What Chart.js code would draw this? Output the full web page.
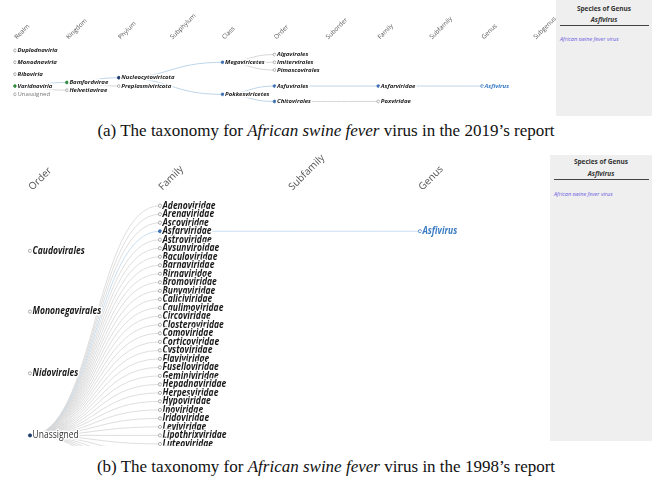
<!DOCTYPE html>
<html>
<head>
<meta charset="utf-8">
<script src="https://cdn.jsdelivr.net/npm/chart.js@4.4.1/dist/chart.umd.min.js"></script>
<style>
  body { margin: 0; width: 652px; height: 485px; position: relative; overflow: hidden; background: #fff; font-family: "Open Sans", sans-serif; }
  canvas { position: absolute; left: 0; }
  #tree2019 { top: 0; }
  #tree1998 { top: 148px; }
  .side { position: absolute; background: #efefef; }
  .side div { position: absolute; left: 0; right: 0; white-space: nowrap; }
  .sh { text-align: center; font-weight: 700; font-size: 6.5px; color: #333; }
  .sg { text-align: center; font-weight: 700; font-style: italic; font-size: 6.5px; color: #333; }
  .rule { height: 0; border-top: 1.5px solid #444; left: 4px !important; right: 3px !important; }
  .sp { left: 4px !important; font-style: italic; font-size: 5.5px; color: #6a5ae0; }
  .cap { position: absolute; left: 0; width: 652px; text-align: center; font-family: "Liberation Serif", "Times New Roman", serif; font-size: 17px; color: #111; }
</style>
</head>
<body>
<canvas id="tree2019" width="556" height="116"></canvas>
<canvas id="tree1998" width="550" height="298"></canvas>

<div class="side" style="left:556px;top:0;width:96px;height:116px">
  <div class="sh" style="top:4px">Species of Genus</div>
  <div class="sg" style="top:15px">Asfivirus</div>
  <div class="rule" style="top:25px"></div>
  <div class="sp" style="top:35px">African swine fever virus</div>
</div>
<div class="cap" style="top:121px">(a) The taxonomy for <i>African swine fever</i> virus in the 2019’s report</div>

<div class="side" style="left:550px;top:155px;width:102px;height:286px">
  <div class="sh" style="top:2px">Species of Genus</div>
  <div class="sg" style="top:14px">Asfivirus</div>
  <div class="rule" style="top:24px"></div>
  <div class="sp" style="top:35px">African swine fever virus</div>
</div>
<div class="cap" style="top:457px">(b) The taxonomy for <i>African swine fever</i> virus in the 1998’s report</div>

<script>
// ---- 2019 report ----
const ranks2019 = ['Realm', 'Kingdom', 'Phylum', 'Subphylum', 'Class', 'Order', 'Suborder', 'Family', 'Subfamily', 'Genus', 'Subgenus'];
const names2019 = ['Duplodnaviria', 'Monodnaviria', 'Riboviria', 'Varidnaviria', 'Unassigned',
  'Bamfordvirae', 'Helvetiavirae', 'Nucleocytoviricota', 'Preplasmiviricota',
  'Megaviricetes', 'Pokkesviricetes', 'Algavirales', 'Imitervirales', 'Pimascovirales',
  'Asfuvirales', 'Chitovirales', 'Asfarviridae', 'Poxviridae', 'Asfivirus'];
const level2019 = [0, 0, 0, 0, 0, 1, 1, 2, 2, 4, 4, 5, 5, 5, 5, 5, 7, 7, 9];
const row2019 = [0, 1, 2, 3, 3.7, 2.7, 3.35, 2.3, 3, 1, 3.7, 0.35, 1, 1.65, 3, 4.3, 3, 4.3, 3];
const parent2019 = [-1, -1, -1, -1, -1, 3, 3, 5, 5, 7, 7, 9, 9, 9, 10, 10, 14, 15, 16];
// g = green open node, n = navy, b = blue, h = selected genus, o = collapsed
const state2019 = ['o', 'o', 'o', 'g', 'o', 'g', 'o', 'n', 'o', 'b', 'b', 'o', 'o', 'o', 'b', 'b', 'b', 'o', 'h'];

// ---- 1998 report ----
const ranks1998 = ['Order', 'Family', 'Subfamily', 'Genus'];
const orders1998 = ['Caudovirales', 'Mononegavirales', 'Nidovirales', 'Unassigned'];
const orderRow1998 = [5.3, 12.45, 19.7, 27];
const families1998 = ['Adenoviridae', 'Arenaviridae', 'Ascoviridae', 'Asfarviridae', 'Astroviridae',
  'Avsunviroidae', 'Baculoviridae', 'Barnaviridae', 'Birnaviridae', 'Bromoviridae', 'Bunyaviridae',
  'Caliciviridae', 'Caulimoviridae', 'Circoviridae', 'Closteroviridae', 'Comoviridae', 'Corticoviridae',
  'Cystoviridae', 'Flaviviridae', 'Fuselloviridae', 'Geminiviridae', 'Hepadnaviridae', 'Herpesviridae',
  'Hypoviridae', 'Inoviridae', 'Iridoviridae', 'Leviviridae', 'Lipothrixviridae', 'Luteoviridae',
  'Microviridae', 'Nodaviridae', 'Orthomyxoviridae', 'Papovaviridae', 'Partitiviridae'];
const genus1998 = 'Asfivirus';
const genusRow1998 = 3;

const colours = { g: '#2f8a3c', n: '#1d3d6b', b: '#3e6fb2', h: '#3a7cc4', o: '#9a9a9a' };

// build the 1998 node table from the lists above
const names1998 = [], level1998 = [], row1998 = [], parent1998 = [], state1998 = [];
orders1998.forEach((o, i) => {
  names1998.push(o); level1998.push(0); row1998.push(orderRow1998[i]); parent1998.push(-1);
  state1998.push(o === 'Unassigned' ? 'n' : 'o');
});
const unassigned1998 = orders1998.indexOf('Unassigned');
families1998.forEach((f, i) => {
  names1998.push(f); level1998.push(1); row1998.push(i); parent1998.push(unassigned1998);
  state1998.push(f === 'Asfarviridae' ? 'b' : 'o');
});
names1998.push(genus1998); level1998.push(3); row1998.push(genusRow1998);
parent1998.push(names1998.indexOf('Asfarviridae')); state1998.push('h');

const treePlugin = {
  id: 'tree',
  beforeDatasetsDraw(chart, args, opts) {
    const { ctx, scales: { x, y } } = chart;
    ctx.save();
    ctx.lineWidth = opts.linkWidth;
    opts.parent.forEach((p, i) => {
      if (p < 0) return;
      const x0 = x.getPixelForValue(opts.level[p]), y0 = y.getPixelForValue(opts.row[p]);
      const x1 = x.getPixelForValue(opts.level[i]), y1 = y.getPixelForValue(opts.row[i]);
      const xm = (x0 + x1) / 2;
      ctx.strokeStyle = opts.state[i] === 'o' ? '#d6d6d6' : '#bcd5ea';
      ctx.beginPath();
      ctx.moveTo(x0, y0);
      ctx.bezierCurveTo(xm, y0, xm, y1, x1, y1);
      ctx.stroke();
    });
    ctx.restore();
  },
  afterDatasetsDraw(chart, args, opts) {
    const { ctx, scales: { x, y } } = chart;
    ctx.save();
    ctx.textBaseline = 'middle';
    ctx.lineJoin = 'round';
    opts.names.forEach((t, i) => {
      const px = x.getPixelForValue(opts.level[i]) + opts.gap;
      const py = y.getPixelForValue(opts.row[i]);
      const plain = t === 'Unassigned';
      ctx.font = (plain ? '' : 'italic 700 ') + opts.fontSize + 'px "Open Sans"';
      ctx.fillStyle = plain ? opts.plainColour : (opts.state[i] === 'h' ? colours.h : '#1a1a1a');
      ctx.save();
      ctx.translate(px, py);
      ctx.scale(opts.stretch, 1);
      ctx.strokeStyle = '#fff';
      ctx.lineWidth = 3;
      ctx.strokeText(t, 0, 0);
      ctx.fillText(t, 0, 0);
      ctx.restore();
    });
    ctx.restore();
  }
};

function drawTree(id, ranks, names, level, row, parent, state, s) {
  return new Chart(document.getElementById(id), {
    type: 'scatter',
    data: {
      datasets: [{
        data: names.map((n, i) => ({ x: level[i], y: row[i] })),
        pointRadius: s.radius,
        pointBorderWidth: 0.8,
        pointBorderColor: state.map(k => colours[k]),
        pointBackgroundColor: state.map(k => (k === 'o' || k === 'h') ? '#fff' : colours[k]),
        clip: false
      }]
    },
    options: {
      responsive: false,
      animation: false,
      events: [],
      layout: { padding: { left: s.left, right: s.right, top: 0, bottom: 0 } },
      scales: {
        x: {
          type: 'linear', position: 'top', min: 0, max: ranks.length - 1,
          afterBuildTicks: sc => { sc.ticks = ranks.map((r, i) => ({ value: i })); },
          afterFit: sc => { sc.height = s.axisHeight; sc.paddingLeft = 0; sc.paddingRight = 0; },
          ticks: {
            callback: v => ranks[v], autoSkip: false, minRotation: 45, maxRotation: 45,
            padding: s.headPad, labelOffset: s.headShift,
            color: '#555', font: { family: 'Open Sans', size: s.headSize }
          },
          grid: { display: false, drawTicks: false },
          border: { display: false }
        },
        y: { type: 'linear', reverse: true, min: s.ymin, max: s.ymax, display: false }
      },
      plugins: {
        legend: { display: false },
        tooltip: { enabled: false },
        tree: {
          names, level, row, parent, state,
          gap: s.gap, fontSize: s.fontSize, stretch: s.stretch,
          linkWidth: s.linkWidth, plainColour: s.plainColour
        }
      }
    },
    plugins: [treePlugin]
  });
}

drawTree('tree2019', ranks2019, names2019, level2019, row2019, parent2019, state2019, {
  left: 15, right: 22, axisHeight: 40, ymin: -0.88, ymax: 5.12, radius: 1.4,
  headSize: 6.3, headPad: -1, headShift: 6, fontSize: 6, stretch: 1, gap: 2.5, linkWidth: 1, plainColour: '#777'
});

drawTree('tree1998', ranks1998, names1998, level1998, row1998, parent1998, state1998, {
  left: 30, right: 130, axisHeight: 43, ymin: -1.73, ymax: 27.68, radius: 1.6,
  headSize: 10, headPad: -2, headShift: 9, fontSize: 10, stretch: 0.85, gap: 2.5, linkWidth: 0.8, plainColour: '#333'
});
</script>
</body>
</html>
